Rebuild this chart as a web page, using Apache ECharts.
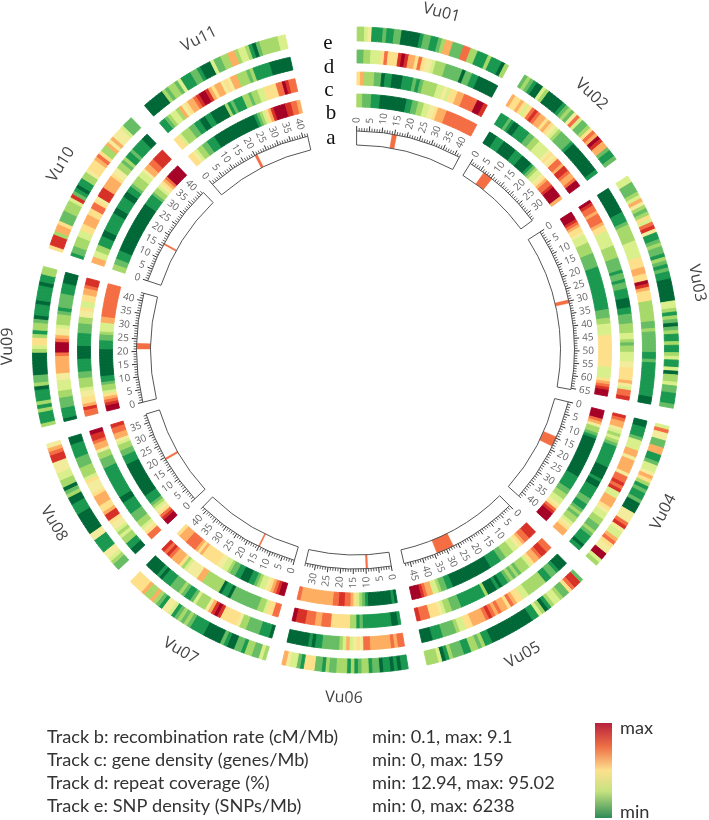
<!DOCTYPE html>
<html>
<head>
<meta charset="utf-8">
<title>Vu circos</title>
<script src="https://cdn.jsdelivr.net/npm/echarts@6/dist/echarts.min.js"></script>
<style>
  html, body { margin: 0; padding: 0; background: #fff; }
  #main { width: 709px; height: 820px; }
</style>
</head>
<body>
<div id="main"></div>
<script>
// chromosomes
const chromNames = ['Vu01', 'Vu02', 'Vu03', 'Vu04', 'Vu05', 'Vu06', 'Vu07', 'Vu08', 'Vu09', 'Vu10', 'Vu11']
const chromLengths = [42, 33.5, 65.5, 42, 47.5, 34, 42, 38.5, 43, 41.5, 42]
const chromStartDeg = [0.3, 31.6, 57.4, 103.7, 135.3, 170.6, 196.2, 227.2, 256.2, 288.4, 319.2]
const chromEndDeg = [28.3, 53.8, 100.4, 131.8, 167.2, 193.2, 224.2, 253, 285, 316, 347.4]
// centromere [from, to] in Mb
const centromeres = [[14, 15.8], [6.5, 10.5], [29.5, 30.8], [14.5, 18.5], [27, 34], [9.3, 10], [14.7, 15.2], [19, 19.7], [21, 23.2], [15.6, 16.2], [20, 21]]

// heat levels per bin, 0 = min (green) .. 10 = max (red)
const vu01b = [3,3,2,2,2,1,1,1,0,0,0,0,0,0,0,0,0,1,1,2,2,3,3,4,4,5,5,6,7,7,7,8,8,8,8,8,8,8,8,8,8,8]
const vu01c = [6,7,3,3,3,2,2,0,1,1,0,0,0,1,1,1,2,1,2,3,3,3,3,4,4,5,4,6,6,7,7,8,8,8,8,10,10,9]
const vu01d = [2,2,3,3,4,4,4,6,8,6,6,6,9,10,9,7,7,6,8,6,5,5,4,3,3,3,2,2,2,2,2,0,2,2,1,1,0,0,0,0,0,0]
const vu01e = [3,3,4,5,1,1,1,2,1,1,2,2,0,0,0,0,0,1,2,2,1,1,2,3,7,7,2,2,2,8,8,3,3,1,1,1,3,1,1,1,0,3]

const vu02b = [0,0,0,1,1,1,0,0,0,0,0,1,1,1,0,0,0,0,1,2,3,4,4,5,6,7,8,8,9,10,10,10,10,7]
const vu02c = [1,1,1,2,1,0,0,1,1,1,1,2,2,3,3,4,4,4,4,5,6,5,6,8,8,7,9,9,8,7,7,8,10,10]
const vu02d = [7,6,6,7,6,4,6,8,9,8,7,7,6,7,6,5,4,3,2,2,2,2,1,0,0,0,0,0,0,0,0,0,0,1]
const vu02e = [2,3,2,1,0,0,4,3,0,0,0,0,0,1,2,3,2,5,8,4,2,2,3,6,8,7,10,9,7,7,2,1,1,2]

const vu03b = [10,10,10,9,8,7,6,6,5,4,4,4,3,3,3,3,2,2,2,2,2,1,1,1,1,1,1,1,1,1,1,1,1,1,1,1,2,2,2,3,3,4,4,4,4,6,6,6,6,6,6,6,6,6,6,6,4,4,4,4,6,7,8,9,10,10]
const vu03c = [10,9,8,8,7,8,8,8,7,6,6,4,4,4,4,4,3,3,3,3,2,2,2,2,1,2,2,1,2,2,1,1,1,0,0,0,1,1,2,2,2,3,3,3,4,4,3,2,3,3,4,4,4,5,5,6,6,6,6,7,5,4,8,8,9]
const vu03d = [0,0,0,0,0,0,0,0,1,1,1,2,3,3,3,3,3,4,4,4,4,4,6,6,6,7,7,6,6,10,9,7,6,6,6,3,3,3,3,3,3,2,2,3,2,2,2,2,2,2,1,1,2,1,1,1,1,1,1,1,1,1,1,0,0]
const vu03e = [4,4,2,2,2,3,4,7,5,3,2,3,6,4,8,9,5,1,1,2,3,2,2,1,3,2,1,2,1,1,0,0,0,0,0,0,4,4,3,1,3,2,0,2,3,1,1,3,1,1,3,4,1,1,4,0,3,3,4,2,2,1,1,1,2]

const vu04b = [10,10,10,8,7,5,3,3,2,1,0,0,0,0,0,0,0,0,0,0,0,0,0,0,1,1,1,1,1,2,2,3,3,4,4,5,6,8,9,10,10,10]
const vu04c = [9,8,7,7,5,4,3,4,3,2,1,1,1,1,1,1,1,0,0,0,0,1,0,0,1,1,1,1,2,2,1,1,2,3,2,3,3,4,5,6,7,7]
const vu04d = [0,0,1,1,1,2,4,4,4,7,7,5,7,7,7,7,5,8,8,9,8,9,4,4,7,7,7,6,5,4,4,3,3,2,2,3,2,1,1,1,0,1]
const vu04e = [4,8,5,5,2,2,7,7,1,1,2,4,4,5,7,6,3,1,2,1,1,2,0,0,0,5,5,5,8,9,5,4,4,7,8,6,5,5,10,10,4,3]

const vu05b = [9,9,9,8,8,7,6,5,4,4,3,3,3,2,2,1,1,1,1,0,0,0,0,0,0,0,0,0,0,0,0,0,0,1,1,2,2,3,4,4,7,7,8,9,10,10,10]
const vu05c = [8,8,9,9,8,7,7,6,4,3,3,3,2,3,2,3,2,1,1,0,1,0,0,0,3,1,1,1,1,1,1,1,1,2,2,2,3,3,4,5,6,6,6,8,8,8,9]
const vu05d = [0,0,0,1,2,2,1,1,3,3,3,3,3,3,4,4,6,6,7,8,6,7,7,8,7,8,9,8,7,7,7,7,6,6,4,4,3,2,2,2,2,1,1,1,0,0,0]
const vu05e = [2,9,9,8,6,2,2,3,4,4,3,1,0,3,4,1,1,0,0,0,0,0,0,0,0,0,0,0,0,1,1,3,2,3,3,1,1,2,2,2,3,1,0,4,3,3,3]

const vu06b = [0,1,0,0,0,0,0,0,0,0,1,2,3,4,6,7,8,8,9,9,8,8,7,7,7,7,7,7,7,7,7,7,7,8]
const vu06c = [1,0,0,1,1,1,1,1,1,1,1,1,2,1,3,3,6,6,6,6,6,6,8,8,8,7,7,8,8,8,9,9,9,10]
const vu06d = [8,8,7,8,7,7,7,7,7,7,8,8,5,6,5,4,7,4,3,2,2,2,2,2,1,1,0,1,0,0,0,0,0,0]
const vu06e = [1,1,0,1,0,1,1,0,2,2,1,3,3,2,1,3,1,3,3,3,2,2,3,1,2,2,6,6,6,1,2,4,4,5,7]

const vu07b = [10,10,9,8,7,6,5,4,4,3,2,1,1,0,0,0,1,1,2,2,3,4,4,5,5,6,6,6,6,6,6,7,6,7,8,8,8,8,7,7,7,6]
const vu07c = [8,8,6,6,4,3,3,2,2,2,2,2,2,2,2,2,0,1,1,0,3,3,3,3,3,3,7,7,5,5,5,5,4,3,6,7,7,7,8,9,8,9]
const vu07d = [0,1,1,1,2,2,2,2,3,3,5,6,6,6,6,6,9,10,9,7,5,3,3,3,4,2,1,1,2,3,2,2,2,1,1,1,0,1,0,0,0,0]
const vu07e = [3,4,2,2,3,3,1,2,2,0,0,1,2,0,0,0,0,0,1,1,1,1,2,3,2,3,2,1,4,5,5,1,2,3,7,3,3,7,6,6,6,6]

const vu08b = [10,10,9,8,6,5,4,3,2,1,1,1,0,0,0,0,0,0,0,0,0,0,0,0,1,1,1,2,2,3,3,4,5,7,7,8,8,9]
const vu08c = [8,8,6,5,4,3,3,2,2,2,1,1,1,1,0,0,1,1,1,1,1,1,1,1,1,1,2,2,2,3,3,5,7,7,8,9,9,10]
const vu08d = [0,0,1,1,3,3,4,3,4,5,5,6,9,9,7,6,6,7,7,7,6,5,5,5,6,4,3,3,3,2,2,2,1,1,1,1,0,0]
const vu08e = [2,2,3,4,5,5,1,1,1,1,5,5,0,0,0,0,0,0,1,1,1,0,0,3,2,0,3,3,4,4,5,5,5,9,9,8,7,5]

const vu09b = [10,10,9,8,7,6,4,3,3,2,1,1,0,0,0,0,0,0,0,0,0,1,1,1,2,2,3,4,4,4,7,7,8,8,8,8,8,8,8,8,8,8,8]
const vu09c = [8,8,9,7,6,6,5,5,4,3,3,3,2,2,1,1,1,1,0,0,0,0,1,1,1,1,2,2,2,3,3,5,5,6,4,4,6,6,7,7,8,9,9]
const vu09d = [0,1,1,1,2,2,2,3,3,4,4,4,5,5,7,7,7,7,7,8,10,10,10,8,7,5,5,4,3,3,3,2,1,2,2,2,2,1,1,1,0,0,0]
const vu09e = [3,1,1,1,3,1,3,1,1,1,0,3,2,2,0,0,0,0,0,0,3,4,6,6,3,1,3,3,2,0,1,1,1,0,1,1,1,1,0,1,1,3,3]

const vu10b = [3,3,2,2,1,1,1,0,0,0,0,0,0,0,0,0,0,0,0,0,0,0,0,0,0,1,1,1,1,2,3,3,4,5,6,7,8,10,10,10,10,10]
const vu10c = [7,7,4,4,3,3,1,1,1,0,0,1,1,1,1,1,1,0,0,1,1,1,1,0,0,1,1,2,3,3,3,4,4,5,7,7,8,8,9,9,9,9]
const vu10d = [1,2,2,3,3,3,4,4,6,6,7,7,7,6,6,8,8,6,5,9,9,9,7,7,7,7,6,5,5,3,3,2,3,1,1,2,1,1,1,1,0,0]
const vu10e = [6,9,9,9,3,7,7,6,2,2,2,3,3,3,4,9,2,1,0,1,1,3,3,5,6,6,6,7,8,6,3,3,7,5,7,5,5,5,4,2,2,2]

const vu11b = [6,6,5,4,3,3,2,2,1,1,1,0,0,0,0,0,0,0,0,0,0,0,0,0,0,0,1,2,3,4,6,7,9,10,10,10,10,9,9,8,8,7]
const vu11c = [6,6,4,3,3,3,2,2,1,1,0,0,1,1,0,0,0,0,0,3,1,2,1,1,1,3,3,2,3,3,4,4,6,6,6,6,8,8,10,9,8,8]
const vu11d = [1,1,2,3,4,4,3,7,5,6,7,7,8,9,10,10,9,7,6,7,7,5,6,5,7,7,3,3,3,2,3,1,1,1,1,1,0,0,0,0,0,0]
const vu11e = [0,0,0,0,0,0,3,2,3,3,2,4,1,1,1,2,2,1,0,0,0,4,2,2,3,3,7,7,3,4,4,3,1,0,2,3,3,3,3,3,4,4]

const heatTracks = [
  [vu01b, vu01c, vu01d, vu01e], [vu02b, vu02c, vu02d, vu02e], [vu03b, vu03c, vu03d, vu03e],
  [vu04b, vu04c, vu04d, vu04e], [vu05b, vu05c, vu05d, vu05e], [vu06b, vu06c, vu06d, vu06e],
  [vu07b, vu07c, vu07d, vu07e], [vu08b, vu08c, vu08d, vu08e], [vu09b, vu09c, vu09d, vu09e],
  [vu10b, vu10c, vu10d, vu10e], [vu11b, vu11c, vu11d, vu11e]
]

// legend text
const trackLabels = ['Track b: recombination rate (cM/Mb)', 'Track c: gene density (genes/Mb)', 'Track d: repeat coverage (%)', 'Track e: SNP density (SNPs/Mb)']
const trackRanges = ['min: 0.1, max: 9.1', 'min: 0, max: 159', 'min: 12.94, max: 95.02', 'min: 0, max: 6238']
const trackLetters = ['e', 'd', 'c', 'b', 'a']

const heatColors = ['#006837', '#1a9850', '#66bd63', '#a6d96a', '#d9ef8b', '#f3ec9c', '#fee08b', '#fdae61', '#f46d43', '#d73027', '#a50026']
// r0, r of tracks b, c, d, e
const trackRadius = [[243, 256], [265, 278], [287, 300], [309, 323]]
const ideoR0 = 205
const ideoR = 219
const redBand = '#f46d43'

function mbToDeg(chr, mb) {
  return chromStartDeg[chr] + (chromEndDeg[chr] - chromStartDeg[chr]) * mb / chromLengths[chr]
}

const heatData = []
heatTracks.forEach((tracks, chr) => {
  tracks.forEach((levels, t) => {
    const step = chromLengths[chr] / levels.length
    levels.forEach((level, i) => {
      heatData.push([trackRadius[t][0], trackRadius[t][1], mbToDeg(chr, i * step), mbToDeg(chr, (i + 1) * step), level])
    })
  })
})

const ideoData = chromNames.map((name, chr) => [mbToDeg(chr, 0), mbToDeg(chr, chromLengths[chr]), mbToDeg(chr, centromeres[chr][0]), mbToDeg(chr, centromeres[chr][1])])

const tickData = []
chromNames.forEach((name, chr) => {
  for (let mb = 0; mb <= chromLengths[chr]; mb++) {
    tickData.push([mbToDeg(chr, mb), mb, chr])
  }
})

const nameData = chromNames.map((name, chr) => [(chromStartDeg[chr] + chromEndDeg[chr]) / 2, name])

const myChart = echarts.init(document.getElementById('main'))

const option = {
  animation: false,
  polar: { center: [355.5, 350], radius: [0, 360] },
  radiusAxis: { type: 'value', min: 0, max: 360, show: false },
  angleAxis: { type: 'value', min: 0, max: 360, startAngle: 90, clockwise: true, show: false },
  series: [
    {
      // 热图轨道
      type: 'custom',
      coordinateSystem: 'polar',
      silent: true,
      data: heatData,
      renderItem(params, api) {
        const p0 = api.coord([api.value(0), api.value(2)])
        const p1 = api.coord([api.value(1), api.value(3)])
        const color = heatColors[api.value(4)]
        return {
          type: 'sector',
          shape: { cx: params.coordSys.cx, cy: params.coordSys.cy, r0: p0[2], r: p1[2], startAngle: -p0[3], endAngle: -p1[3], clockwise: true },
          style: { fill: color, stroke: color, lineWidth: 0.9 }
        }
      }
    },
    {
      // 染色体外框和着丝粒
      type: 'custom',
      coordinateSystem: 'polar',
      silent: true,
      data: ideoData,
      renderItem(params, api) {
        const cx = params.coordSys.cx
        const cy = params.coordSys.cy
        const a = api.coord([ideoR0, api.value(0)])
        const b = api.coord([ideoR, api.value(1)])
        const c = api.coord([ideoR0, api.value(2)])
        const d = api.coord([ideoR, api.value(3)])
        return {
          type: 'group',
          children: [
            {
              type: 'sector',
              shape: { cx, cy, r0: c[2], r: d[2], startAngle: -c[3], endAngle: -d[3], clockwise: true },
              style: { fill: redBand, stroke: redBand, lineWidth: 0.4 }
            },
            {
              type: 'sector',
              shape: { cx, cy, r0: a[2], r: b[2], startAngle: -a[3], endAngle: -b[3], clockwise: true },
              style: { fill: 'none', stroke: '#555', lineWidth: 1 }
            }
          ]
        }
      }
    },
    {
      // 刻度和刻度文字
      type: 'custom',
      coordinateSystem: 'polar',
      silent: true,
      data: tickData,
      renderItem(params, api) {
        const deg = api.value(0)
        const mb = api.value(1)
        const major = mb % 5 === 0
        const p0 = api.coord([ideoR, deg])
        const p1 = api.coord([ideoR + (major ? 5 : 3), deg])
        const line = {
          type: 'line',
          shape: { x1: p0[0], y1: p0[1], x2: p1[0], y2: p1[1] },
          style: { stroke: '#333', lineWidth: major ? 1 : 0.8 }
        }
        if (!major) return line
        const pt = api.coord([ideoR + 8, deg])
        // 右半圈文字朝外，左半圈文字朝内，Vu06 整段按左半圈
        const leftSide = deg >= 170
        const rot = (leftSide ? 270 - deg : 90 - deg) * Math.PI / 180
        return {
          type: 'group',
          children: [line, {
            type: 'text',
            x: pt[0],
            y: pt[1],
            rotation: rot,
            style: { text: String(mb), fontFamily: 'Open Sans', fontSize: 10, fill: '#666', align: leftSide ? 'right' : 'left', verticalAlign: 'middle' }
          }]
        }
      }
    },
    {
      // 染色体名字
      type: 'custom',
      coordinateSystem: 'polar',
      silent: true,
      data: nameData,
      renderItem(params, api) {
        const deg = api.value(0)
        const pt = api.coord([348, deg])
        const top = deg < 90 || deg > 270
        const rot = (top ? -deg : 180 - deg) * Math.PI / 180
        return {
          type: 'text',
          x: pt[0],
          y: pt[1],
          rotation: rot,
          style: { text: chromNames[params.dataIndex], fontFamily: 'Open Sans', fontSize: 16, fill: '#444', align: 'center', verticalAlign: 'middle' }
        }
      }
    }
  ],
  graphic: {
    elements: [
      // 轨道字母
      ...trackLetters.map((s, i) => ({
        type: 'text',
        x: [328, 329, 329, 331, 331][i],
        y: [43, 67, 90, 113, 138][i],
        style: { text: s, fontFamily: 'Liberation Serif', fontSize: 21, fill: '#111', align: 'center', verticalAlign: 'middle' }
      })),
      // 图例
      ...trackLabels.map((s, i) => ({
        type: 'text',
        x: 47,
        y: 737 + i * 23,
        style: { text: s, fontFamily: 'Lato', fontSize: 18.2, fill: '#333', align: 'left', verticalAlign: 'middle' }
      })),
      ...trackRanges.map((s, i) => ({
        type: 'text',
        x: 372,
        y: 737 + i * 23,
        style: { text: s, fontFamily: 'Lato', fontSize: 18.2, fill: '#333', align: 'left', verticalAlign: 'middle' }
      })),
      {
        type: 'rect',
        shape: { x: 595, y: 723, width: 17, height: 95 },
        style: {
          fill: new echarts.graphic.LinearGradient(0, 0, 0, 1, [
            { offset: 0, color: '#b8213f' },
            { offset: 0.25, color: '#ee7045' },
            { offset: 0.5, color: '#fde08e' },
            { offset: 0.72, color: '#c5e27f' },
            { offset: 1, color: '#2e8b57' }
          ])
        }
      },
      {
        type: 'text', x: 620, y: 728,
        style: { text: 'max', fontFamily: 'Lato', fontSize: 18.2, fill: '#333', align: 'left', verticalAlign: 'middle' }
      },
      {
        type: 'text', x: 620, y: 812,
        style: { text: 'min', fontFamily: 'Lato', fontSize: 18.2, fill: '#333', align: 'left', verticalAlign: 'middle' }
      }
    ]
  }
}

myChart.setOption(option)
</script>
</body>
</html>
